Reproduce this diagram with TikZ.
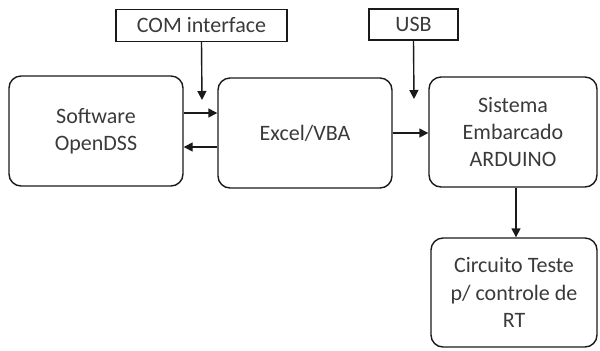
\documentclass[tikz,border=0pt]{standalone}
\usepackage{fontspec}
\setmainfont{Carlito}
\usepackage{tikz}
\usetikzlibrary{arrows.meta,calc,positioning}
\definecolor{tinta}{HTML}{1A1A1A}
\definecolor{letra}{HTML}{3A3A3A}
\tikzset{
  caixa/.style={draw=tinta,line width=0.7pt,rounded corners=6pt,align=center,text=letra,
    minimum width=87pt,minimum height=55pt,inner sep=2pt,font=\fontsize{11}{13.6}\selectfont},
  rotulo/.style={draw=tinta,line width=0.6pt,align=center,text=letra,inner sep=2pt,
    minimum height=16pt,font=\fontsize{11}{13.6}\selectfont},
  flecha/.style={draw=tinta,line width=0.7pt,-{Triangle[length=4.5pt,width=4.5pt]}},
}
\begin{document}
\begin{tikzpicture}[x=0.5pt,y=-0.5pt]
\useasboundingbox (0,0) rectangle (600,350);
\coordinate (p1) at (96,131);
\coordinate (p2) at (305,133);
\coordinate (p3) at (513,132);
\coordinate (p4) at (514,292.5);
\coordinate (p5) at (201.5,25.5);
\coordinate (p6) at (413.5,24.5);
\coordinate (f1) at (202,100);
\coordinate (f2) at (414,99);
\node[caixa] (soft) at (p1) {Software\\OpenDSS};
\node[caixa] (excel) at (p2) {Excel/VBA};
\node[caixa,minimum width=84pt] (sist) at (p3) {Sistema\\Embarcado\\ARDUINO};
\node[caixa,minimum width=83pt,minimum height=54.5pt] (circ) at (p4) {Circuito Teste\\p/ controle de\\RT};
\node[rotulo,minimum width=85.5pt] (com) at (p5) {COM interface};
\node[rotulo,minimum width=44.5pt,minimum height=15.5pt] (usb) at (p6) {USB};
\draw[flecha] (com.south) -- (f1);
\draw[flecha] (usb.south) -- (f2);
\draw[flecha] ([yshift=9pt]soft.east) -- ([yshift=9pt]soft.east -| excel.west);
\draw[flecha] ([yshift=-7pt]excel.west) -- ([yshift=-7pt]excel.west -| soft.east);
\draw[flecha] (excel.east) -- (excel.east -| sist.west);
\draw[flecha] ([xshift=1.5pt]sist.south) -- ([xshift=1.5pt]sist.south |- circ.north);
\end{tikzpicture}
\end{document}
